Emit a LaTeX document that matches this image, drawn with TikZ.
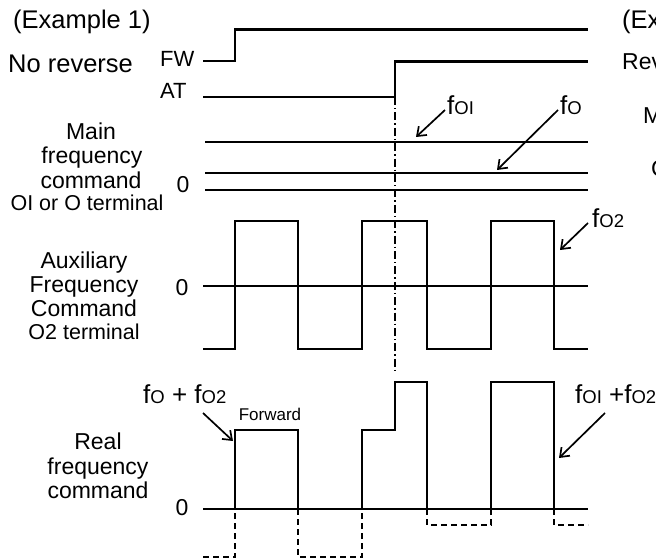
\documentclass[tikz,border=0pt]{standalone}
\usepackage{fontspec}
\setmainfont{Liberation Sans}
\usetikzlibrary{arrows.meta}
\newcommand\fsubx[1]{f{\fontsize{18.5}{20}\selectfont #1}}
\begin{document}
\begin{tikzpicture}[x=1pt,y=-1pt,
  sig/.style={line width=2.8pt, line join=miter},
  zline/.style={line width=1.1pt},
  dsh/.style={line width=1.6pt, dash pattern=on 6pt off 4pt},
  dd/.style={line width=1.4pt, dash pattern=on 8pt off 3pt on 1.4pt off 3pt},
  arr/.style={line width=1.7pt, -{Straight Barb[length=8pt,width=12pt]}},
  big/.style={inner sep=0pt, font=\fontsize{25.5}{30}\selectfont},
  lbl/.style={inner sep=0pt, anchor=base, font=\fontsize{23}{27}\selectfont},
  flbl/.style={inner sep=0pt, anchor=base west, font=\fontsize{26}{30}\selectfont},
  sig2/.style={inner sep=0pt, anchor=base west, font=\fontsize{22}{26}\selectfont},
  sml/.style={inner sep=0pt, anchor=base, font=\fontsize{21.5}{25}\selectfont},
  tiny/.style={inner sep=0pt, anchor=base, font=\fontsize{17}{20}\selectfont}
]
\useasboundingbox (0,0) rectangle (656,559);

% titles
\node[big, anchor=base west] (ex1) at (13,29) {(Example 1)};
\node[big, anchor=base west] (norev) at (8,73) {No reverse};
\node[sig2] (fw) at (160,67) {FW};
\node[sig2] (at) at (160,99) {AT};

% partially visible texts of the next example
\begin{scope}
\clip (0,0) rectangle (656,559);
\node[big, anchor=base west] (ex2) at (622,29) {(Example 2)};
\node[big, anchor=base west, font=\fontsize{23}{27}\selectfont] (rev) at (622,70) {Reverse};
\node[lbl, anchor=base west] (main2) at (643,124) {Main};
\node[lbl, anchor=base west] (cmd2) at (651,176) {Command};
\end{scope}

% FW and AT signals
\draw[sig] (203,61) -- (235,61) -- (235,29.5) -- (588,29.5);
\draw[sig] (203,97) -- (395,97) -- (395,61.5) -- (588,61.5);

% main frequency
\node[lbl] (m1) at (91,140) {Main};
\node[lbl] (m2) at (92,164) {frequency};
\node[lbl] (m3) at (91,188) {command};
\node[sml] (m4) at (87,210) {OI or O terminal};
\node[lbl] (m0) at (183,193) {0};
\draw[sig] (205,142) -- (588,142);
\draw[sig] (205,173) -- (588,173);
\draw[zline] (205,190) -- (588,190);
\node[flbl] (lOI) at (447,115) {\fsubx{OI}};
\node[flbl] (lO) at (560,115) {\fsubx{O}};
\coordinate (aOIs) at (445,110);
\coordinate (aOIe) at (416,137);
\coordinate (aOs) at (558,110);
\coordinate (aOe) at (497,170);
\draw[arr] (aOIs) -- (aOIe);
\draw[arr] (aOs) -- (aOe);

% auxiliary frequency
\node[lbl] (a1) at (84,268) {Auxiliary};
\node[lbl] (a2) at (84,292) {Frequency};
\node[lbl] (a3) at (84,316) {Command};
\node[sml] (a4) at (84,339) {O2 terminal};
\node[lbl] (a0) at (182,295) {0};
\draw[zline] (203,286) -- (588,286);
\draw[sig] (203,349) -- (235,349) -- (235,221) -- (298,221) -- (298,349) -- (362,349) -- (362,221) -- (427,221) -- (427,349) -- (491,349) -- (491,221) -- (554,221) -- (554,349) -- (588,349);
\node[flbl] (lO2) at (592,227) {\fsubx{O2}};
\coordinate (aO2s) at (588,223);
\coordinate (aO2e) at (560,250);
\draw[arr] (aO2s) -- (aO2e);

% dash-dot marker
\coordinate (ddtop) at (395,97);
\coordinate (ddbot) at (395,373);
\draw[dd] (ddtop) -- (ddbot);

% real frequency
\node[lbl] (r1) at (98,449) {Real};
\node[lbl] (r2) at (98,474) {frequency};
\node[lbl] (r3) at (98,498) {command};
\node[lbl] (r0) at (182,515) {0};
\draw[zline] (203,509) -- (588,509);
\draw[sig] (203,509) -- (235,509) -- (235,430) -- (298,430) -- (298,509) -- (362,509) -- (362,430) -- (395,430) -- (395,382) -- (427,382) -- (427,509) -- (491,509) -- (491,382) -- (554,382) -- (554,509) -- (588,509);
\draw[dsh] (203,557) -- (235,557) -- (235,509);
\draw[dsh] (298,509) -- (298,557) -- (362,557) -- (362,509);
\draw[dsh] (427,509) -- (427,525) -- (491,525) -- (491,509);
\draw[dsh] (554,509) -- (554,525) -- (588,525);
\node[tiny] (fwd) at (270,420) {Forward};
\node[flbl] (lsum1) at (143,403) {\fsubx{O} + \fsubx{O2}};
\node[flbl] (lsum2) at (575,403) {\fsubx{OI} +\fsubx{O2}};
\coordinate (s1s) at (203,413);
\coordinate (s1e) at (233,441);
\coordinate (s2s) at (605,413);
\coordinate (s2e) at (559,458);
\draw[arr] (s1s) -- (s1e);
\draw[arr] (s2s) -- (s2e);
\end{tikzpicture}
\end{document}
